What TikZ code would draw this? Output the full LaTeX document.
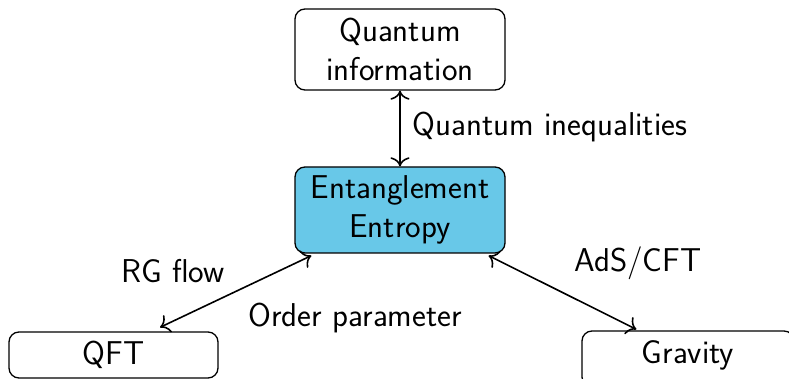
\documentclass[tikz,border=0pt]{standalone}
\usepackage{fontspec}
\usetikzlibrary{arrows.meta}
\definecolor{eefill}{RGB}{104,200,232}
\tikzset{
  topic/.style={draw=black, line width=0.65pt, rounded corners=5pt, align=center,
    inner sep=0pt, font=\sffamily\fontsize{16.5}{19.5}\selectfont},
  lbl/.style={inner sep=0pt, font=\sffamily\fontsize{16.5}{19.5}\selectfont},
  link/.style={{To[scale=1.35]}-{To[scale=1.35]}, line width=0.8pt}
}
\begin{document}
\begin{tikzpicture}[x=0.5pt, y=-0.5pt]
\useasboundingbox (0,0) rectangle (789,379);
\clip (0,0) rectangle (789,379);
% boxes
\node[topic, minimum width=105pt, minimum height=40.5pt] (qi) at (400,49.5) {Quantum\\information};
\node[topic, fill=eefill, minimum width=105pt, minimum height=43pt] (ee) at (400,210) {Entanglement\\Entropy};
\node[topic, minimum width=104.5pt, minimum height=23pt] (qft) at (113.5,355) {QFT};
\node[topic, minimum width=106pt, minimum height=28pt] (grav) at (688,359) {};
\node[lbl] (gravtext) at (688,355) {Gravity};
% links
\draw[link] (qi.south) -- (ee.north);
\draw[link] ([xshift=8.5pt,yshift=-1pt]ee.south west) -- ([xshift=23.25pt,yshift=2pt]qft.north);
\draw[link] ([xshift=-8.5pt,yshift=-1pt]ee.south east) -- ([xshift=27.5pt,yshift=0.5pt]grav.north west);
% labels
\node[lbl, anchor=west] (lqi) at (412,127) {Quantum inequalities};
\node[lbl] (lrg) at (173,271) {RG flow};
\node[lbl, anchor=west] (lop) at (248,318) {Order parameter};
\node[lbl] (lads) at (638,263) {AdS/CFT};
\end{tikzpicture}
\end{document}
